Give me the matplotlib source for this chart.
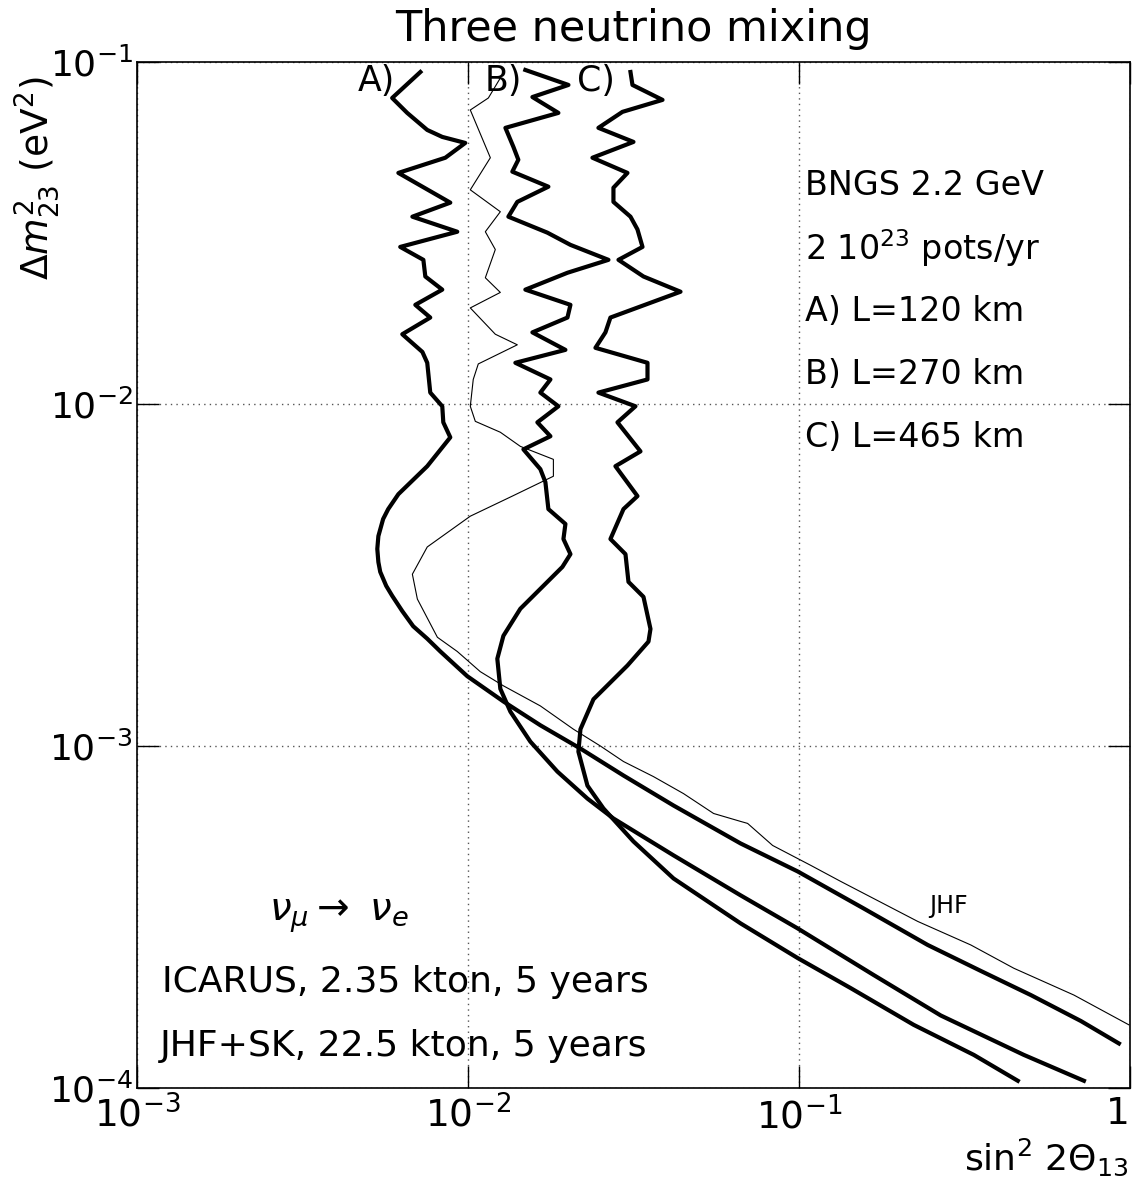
import matplotlib
matplotlib.use("Agg")
import matplotlib.pyplot as plt
from matplotlib.ticker import NullLocator, FixedLocator

# ICARUS sensitivity curves, A) L=120 km
a_sin = [0.00718, 0.00590, 0.00655, 0.00753, 0.00836, 0.00981, 0.00854, 0.00616, 0.00884, 0.00679,
         0.00928, 0.00624, 0.00733, 0.00743, 0.00836, 0.00693, 0.00769, 0.00633, 0.00728, 0.00753,
         0.00769, 0.00836, 0.00842, 0.00884, 0.00753, 0.00616, 0.00574, 0.00554, 0.00536, 0.00532,
         0.00536, 0.00543, 0.00566, 0.00590, 0.00633, 0.00683, 0.00753, 0.00825, 0.00995, 0.01279,
         0.01654, 0.02186, 0.02949, 0.04177, 0.06659, 0.09901, 0.1568, 0.2448, 0.3541, 0.5016,
         0.7106, 0.9256]
a_dm2 = [0.0935, 0.0785, 0.0710, 0.0633, 0.0604, 0.0580, 0.0525, 0.0474, 0.0388, 0.0353,
         0.0319, 0.0288, 0.0264, 0.0236, 0.0216, 0.0195, 0.0179, 0.0160, 0.0142, 0.0132,
         0.0108, 0.00985, 0.00884, 0.00799, 0.00658, 0.00545, 0.00493, 0.00461, 0.00411, 0.00377,
         0.00345, 0.00323, 0.00294, 0.00275, 0.00248, 0.00224, 0.00206, 0.00189, 0.00160, 0.00135,
         0.00115, 0.000983, 0.000820, 0.000670, 0.000519, 0.000430, 0.000335, 0.000262, 0.000220, 0.000187,
         0.000157, 0.000135]

# B) L=270 km
b_sin = [0.01490, 0.02011, 0.01565, 0.01875, 0.01297, 0.01371, 0.01419, 0.01361, 0.01749, 0.01409,
         0.01324, 0.01737, 0.02039, 0.02656, 0.01997, 0.01490, 0.02039, 0.01997, 0.01565, 0.01969,
         0.01390, 0.01774, 0.01654, 0.01875, 0.01620, 0.01774, 0.01470, 0.01654, 0.01713, 0.01749,
         0.01969, 0.01942, 0.02039, 0.01928, 0.01689, 0.01439, 0.01279, 0.01226, 0.01252, 0.01343,
         0.01543, 0.01862, 0.02295, 0.02750, 0.04177, 0.06659, 0.09901, 0.1681, 0.2680, 0.4777, 0.7256]
b_dm2 = [0.0948, 0.0857, 0.0790, 0.0710, 0.0642, 0.0565, 0.0518, 0.0478, 0.0432, 0.0390,
         0.0353, 0.0317, 0.0292, 0.0264, 0.0242, 0.0216, 0.0195, 0.0179, 0.0162, 0.0144,
         0.0132, 0.0118, 0.0108, 0.00985, 0.00884, 0.00805, 0.00737, 0.00645, 0.00591, 0.00493,
         0.00446, 0.00403, 0.00364, 0.00334, 0.00294, 0.00252, 0.00210, 0.00180, 0.00147, 0.00126,
         0.00103, 0.000842, 0.000702, 0.000614, 0.000479, 0.000366, 0.000293, 0.000214, 0.000163, 0.000125, 0.000105]

# C) L=465 km
c_sin = [0.03096, 0.03139, 0.03869, 0.02928, 0.02477, 0.03161, 0.02376, 0.03032, 0.02750, 0.02750,
         0.03096, 0.03250, 0.03366, 0.02848, 0.03389, 0.04385, 0.02693, 0.02601, 0.02426, 0.03485,
         0.03485, 0.02477, 0.03205, 0.02828, 0.03319, 0.02788, 0.03250, 0.02949, 0.02693, 0.02990,
         0.03053, 0.03389, 0.03558, 0.03509, 0.03032, 0.02393, 0.02186, 0.02155, 0.02295, 0.02565,
         0.03161, 0.04177, 0.06659, 0.09901, 0.1432, 0.2221, 0.3373, 0.4581]
c_dm2 = [0.0935, 0.0857, 0.0775, 0.0715, 0.0642, 0.0584, 0.0525, 0.0474, 0.0429, 0.0390,
         0.0353, 0.0324, 0.0288, 0.0264, 0.0236, 0.0213, 0.0179, 0.0162, 0.0146, 0.0132,
         0.0118, 0.0108, 0.00985, 0.00884, 0.00727, 0.00658, 0.00538, 0.00493, 0.00403, 0.00364,
         0.00302, 0.00273, 0.00220, 0.00202, 0.00172, 0.00137, 0.00112, 0.000963, 0.000766, 0.000657,
         0.000526, 0.000410, 0.000303, 0.000240, 0.000196, 0.000153, 0.000125, 0.000105]

# JHF+SK comparison curve
jhf_sin = [0.01252, 0.01152, 0.01016, 0.01168, 0.01016, 0.01252, 0.01128, 0.01209, 0.01128, 0.01252,
           0.01016, 0.01209, 0.01409, 0.01074, 0.01037, 0.01016, 0.01052, 0.01252, 0.01439, 0.01811,
           0.01811, 0.01361, 0.01016, 0.00753, 0.00679, 0.00703, 0.00808, 0.00928, 0.01089, 0.01279,
           0.01654, 0.02082, 0.02512, 0.02949, 0.03633, 0.04477, 0.05520, 0.06659, 0.06992, 0.08323,
           0.1084, 0.1336, 0.2284, 0.3304, 0.4456, 0.6768, 0.9925]
jhf_dm2 = [0.0898, 0.0785, 0.0724, 0.0525, 0.0423, 0.0365, 0.0319, 0.0283, 0.0234, 0.0212,
           0.0191, 0.0160, 0.0149, 0.0131, 0.0118, 0.00985, 0.00890, 0.00827, 0.00752, 0.00689,
           0.00615, 0.00538, 0.00470, 0.00382, 0.00318, 0.00269, 0.00208, 0.00189, 0.00165, 0.00150,
           0.00131, 0.00112, 0.00100, 0.000901, 0.000814, 0.000726, 0.000635, 0.000602, 0.000594, 0.000512,
           0.000448, 0.000402, 0.000307, 0.000262, 0.000224, 0.000187, 0.000153]

x_ticks = [1e-3, 1e-2, 1e-1, 1]
x_labels = ['$10^{-3}$', '$10^{-2}$', '$10^{-1}$', '1']
y_ticks = [1e-4, 1e-3, 1e-2, 1e-1]
y_labels = ['$10^{-4}$', '$10^{-3}$', '$10^{-2}$', '$10^{-1}$']

plt.rcParams['font.family'] = 'DejaVu Sans'
plt.rcParams['mathtext.fontset'] = 'dejavusans'

fig = plt.figure(figsize=(11.38, 11.86), dpi=100)
ax = fig.add_axes([0.1204, 0.0826, 0.8726, 0.8651])

# thick ICARUS curves and thin JHF curve
for xs, ys in [(a_sin, a_dm2), (b_sin, b_dm2), (c_sin, c_dm2)]:
    ax.plot(xs, ys, color='black', lw=3.0, solid_joinstyle='round')
ax.plot(jhf_sin, jhf_dm2, color='black', lw=0.8)

ax.set_xscale('log')
ax.set_yscale('log')
ax.set_xlim(1e-3, 1)
ax.set_ylim(1e-4, 1e-1)

ax.xaxis.set_major_locator(FixedLocator(x_ticks))
ax.yaxis.set_major_locator(FixedLocator(y_ticks))
ax.xaxis.set_minor_locator(NullLocator())
ax.yaxis.set_minor_locator(NullLocator())
ax.set_xticklabels(x_labels, fontsize=27)
ax.set_yticklabels(y_labels, fontsize=26)
# keep the "1" label inside the figure
ax.get_xticklabels()[-1].set_horizontalalignment('right')
ax.tick_params(which='major', direction='in', length=16, width=1, top=True, right=True)
ax.tick_params(axis='x', pad=6)
ax.tick_params(axis='y', pad=3)
ax.grid(True, which='major', color='#555555', linestyle=(0, (1, 3)), linewidth=1)
for sp in ax.spines.values():
    sp.set_linewidth(1.2)

ax.set_title('Three neutrino mixing', fontsize=31, pad=15)
fig.text(0.032, 0.85, r'$\Delta m^2_{23}$ (eV$^2$)', rotation=90, fontsize=27,
         ha='center', va='center')
fig.text(0.992, 0.024, r'sin$^2$ 2$\Theta_{13}$', fontsize=26, ha='right', va='center')

# curve labels at top
ax.text(0.0053, 0.0878, 'A)', fontsize=25, ha='center', va='center')
ax.text(0.0128, 0.0878, 'B)', fontsize=25, ha='center', va='center')
ax.text(0.0243, 0.0878, 'C)', fontsize=25, ha='center', va='center')
ax.text(0.283, 0.00034, 'JHF', fontsize=17, ha='center', va='center')

info = ['BNGS 2.2 GeV', r'2 10$^{23}$ pots/yr', 'A) L=120 km', 'B) L=270 km', 'C) L=465 km']
for i, s in enumerate(info):
    ax.text(0.673, 0.880 - i * 0.0614, s, transform=ax.transAxes, fontsize=24, va='center')

ax.text(0.133, 0.168, r'$\nu_\mu \rightarrow\ \nu_e$', transform=ax.transAxes, fontsize=28, va='center')
ax.text(0.025, 0.103, 'ICARUS, 2.35 kton, 5 years', transform=ax.transAxes, fontsize=26, va='center')
ax.text(0.023, 0.041, 'JHF+SK, 22.5 kton, 5 years', transform=ax.transAxes, fontsize=26, va='center')

fig.savefig('out.png', dpi=100)
